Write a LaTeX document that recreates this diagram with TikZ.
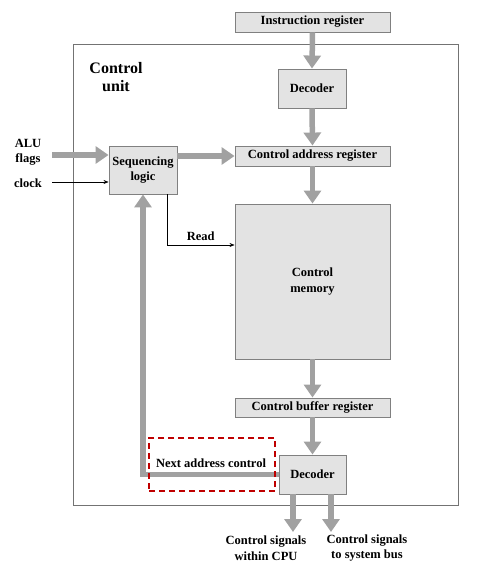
\documentclass[tikz,border=0pt]{standalone}
\usepackage{fontspec}
\setmainfont{Liberation Serif}
\usetikzlibrary{arrows.meta}

\begin{document}
\begin{tikzpicture}[x=1pt,y=-1pt, every node/.style={font=\fontsize{12.5}{15.5}\selectfont\bfseries,align=center},
  blk/.style={draw=black!50,fill=black!11,line width=.9pt,inner sep=0pt},
  fat/.style={draw=black!37,line width=5.5pt,-{Triangle[length=13pt,width=17pt]}},
  wire/.style={draw=black,line width=.6pt,-{Stealth[length=5pt,width=4pt]}}]
  \useasboundingbox (0,0) rectangle (482,581);
  \draw[black!55,line width=.8pt] (73,44) rectangle (458,505);
  \node[font=\fontsize{16}{18}\selectfont\bfseries] (cu) at (116,77) {Control\\unit};
  \node[blk,minimum width=155,minimum height=20] (ir) at (312.5,22) {Instruction register};
  \node[blk,minimum width=68,minimum height=39] (dec1) at (312,88.5) {Decoder};
  \node[blk,minimum width=155,minimum height=20] (car) at (312.5,156) {Control address register};
  \node[blk,minimum width=68,minimum height=48] (seq) at (143,170) {Sequencing\\logic};
  \node[blk,minimum width=155,minimum height=155] (cm) at (312.5,281.5) {Control\\memory};
  \node[blk,minimum width=155,minimum height=19] (cbr) at (312.5,407.5) {Control buffer register};
  \node[blk,minimum width=67,minimum height=39] (dec2) at (312.5,474.5) {Decoder};
  \node (alu) at (28,152) {ALU\\flags};
  \node (clk) at (28,183) {clock};
  \node (sig1) at (266,548) {Control signals\\within CPU};
  \node (sig2) at (367,548) {Control signals\\to system bus};
  \coordinate (alu in) at (52,155);
  \coordinate (clk in) at (52,182);
  \coordinate (o1) at (293,532);
  \coordinate (o2) at (331,532);
  % main data path
  \foreach \a/\b in {ir/dec1,dec1/car,car/cm,cm/cbr,cbr/dec2}
    \draw[fat] (\a.south) -- (\b.north);
  \draw[fat] (alu in) -- (alu in -| seq.west);
  \draw[fat] (seq.east |- car.west) -- (car.west);
  \draw[wire] (clk in) -- (clk in -| seq.west);
  \draw[wire] (seq.south -| 167,0) |- ([yshift=36.5pt]cm.west) node[pos=.75,above=1pt] {Read};
  \draw[fat] (dec2.west) -| (seq.south);
  \foreach \o in {o1,o2}
    \draw[fat] (dec2.south -| \o) -- (\o);
  \node[draw=red!75!black,dashed,dash pattern=on 6pt off 4pt,line width=1.8pt,minimum width=126,minimum height=53] (nac) at (212,464.5) {};
  \node at (211,463) {Next address control};
\end{tikzpicture}
\end{document}
